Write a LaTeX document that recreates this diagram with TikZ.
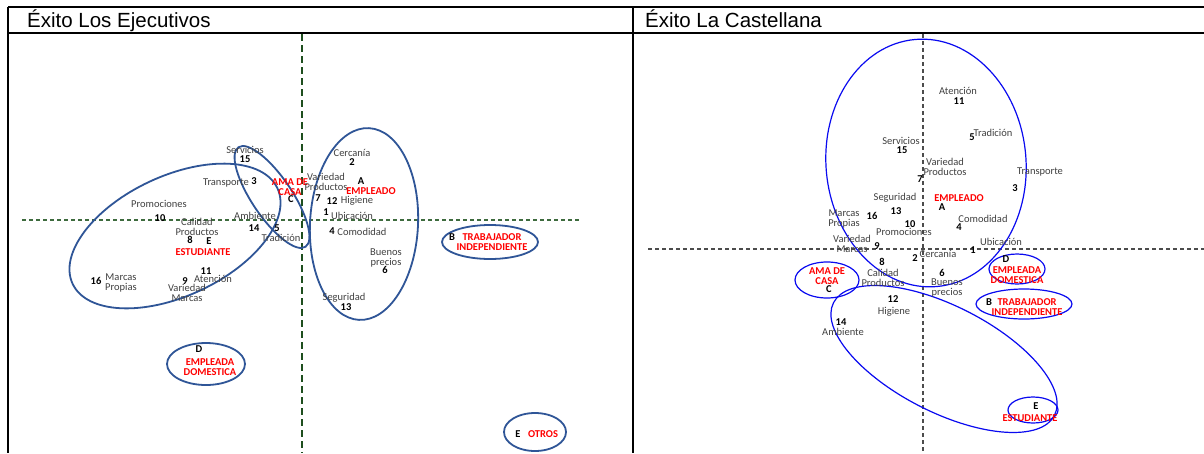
\documentclass[tikz,border=0pt]{standalone}
\usepackage{fontspec}
\setmainfont{Carlito}
\newfontfamily\hdfont{Liberation Sans}
\definecolor{lblue}{HTML}{2F5597}
\definecolor{rblue}{HTML}{0A0AF0}
\definecolor{dgreen}{HTML}{1F4F1F}
\definecolor{mgreen}{HTML}{3E6B3E}
\definecolor{txtgray}{HTML}{404040}
\begin{document}
\begin{tikzpicture}[x=1pt,y=-1pt,
  lbl/.style={font=\fontsize{10.5}{9.5}\selectfont, text=txtgray, inner sep=0pt, align=center},
  num/.style={font=\fontsize{10.5}{9.5}\selectfont\bfseries, text=black, inner sep=0pt},
  grp/.style={font=\fontsize{10.5}{9.5}\selectfont\bfseries, text=red, inner sep=0pt, align=center},
  hd/.style={font=\hdfont\fontsize{20.5}{22}\selectfont, text=black, inner sep=0pt, anchor=base west},
  tbl/.style={line width=2pt, black},
  lell/.style={draw=lblue, line width=1.8pt},
  rell/.style={draw=rblue, line width=1.2pt},
  laxv/.style={draw=dgreen, line width=2pt, dash pattern=on 7pt off 4pt},
  laxh/.style={draw=mgreen, line width=1.2pt, dash pattern=on 4pt off 3pt},
  raxis/.style={draw=black!70, line width=1.2pt, dash pattern=on 4pt off 3pt}
]
\useasboundingbox (0,0) rectangle (1204,453);
\fill[white] (0,0) rectangle (1204,453);

% table
\draw[tbl] (8,7) -- (1204,7);
\draw[tbl] (8,33) -- (1204,33);
\draw[tbl] (8,7) -- (8,453);
\draw[tbl] (633,7) -- (633,453);
\node[hd] (h1) at (27,27) {Éxito Los Ejecutivos};
\node[hd] (h2) at (645,27) {Éxito La Castellana};

% left axes
\draw[laxv] (302,34) -- (302,453);
\draw[laxh] (22,220) -- (580,220);

% right axes
\draw[raxis] (923,34) -- (923,453);
\draw[raxis] (648,249) -- (1204,249);

% left ellipses
\draw[lell, rotate around={25:(175,236)}] (175,236) ellipse [x radius=113pt, y radius=60pt];
\draw[lell, rotate around={-56:(272,197)}] (272,197) ellipse [x radius=60pt, y radius=20pt];
\draw[lell, rotate around={-3:(364,224)}] (364,224) ellipse [x radius=54pt, y radius=96pt];
\draw[lell] (490,242) ellipse [x radius=48pt, y radius=17pt];
\draw[lell] (535,432) ellipse [x radius=31pt, y radius=19pt];
\draw[lell] (206,364) ellipse [x radius=39pt, y radius=21pt];

% right ellipses
\draw[rell, rotate around={5:(926,163)}] (926,163) ellipse [x radius=100pt, y radius=124pt];
\draw[rell, rotate around={-27:(944,359)}] (944,359) ellipse [x radius=124pt, y radius=53pt];
\draw[rell] (827,280) ellipse [x radius=32pt, y radius=18pt];
\draw[rell] (1017,269) ellipse [x radius=28pt, y radius=15pt];
\draw[rell] (1024,304) ellipse [x radius=48pt, y radius=15pt];
\draw[rell] (1033,410) ellipse [x radius=25pt, y radius=13pt];

% left labels
\node[lbl] (l-serv) at (245,150) {Servicios};
\node[num] (l-15) at (245,159) {15};
\node[lbl] (l-transp) at (226,183) {Transporte};
\node[num] (l-3) at (254,181) {3};
\node[grp] (l-ama) at (290,187) {AMA DE\\CASA};
\node[num] (l-C) at (291,199) {C};
\node[lbl] (l-promo) at (159,204) {Promociones};
\node[num] (l-10) at (160,218) {10};
\node[lbl] (l-cal) at (197,227) {Calidad\\Productos};
\node[num] (l-8) at (190,240) {8};
\node[num] (l-E) at (209,241) {E};
\node[grp] (l-est) at (203,252) {ESTUDIANTE};
\node[lbl] (l-amb) at (255,216) {Ambiente};
\node[num] (l-14) at (254,228) {14};
\node[num] (l-5) at (277,228) {5};
\node[lbl] (l-trad) at (281,238) {Tradición};
\node[num] (l-16) at (96,281) {16};
\node[lbl] (l-marcas) at (121,283) {Marcas\\Propias};
\node[num] (l-11) at (206,271) {11};
\node[num] (l-9) at (185,281) {9};
\node[lbl] (l-aten) at (213,279) {Atención};
\node[lbl] (l-varm) at (187,293) {Variedad\\Marcas};
\node[lbl] (l-varp) at (326,182) {Variedad\\Productos};
\node[num] (l-7) at (318,198) {7};
\node[lbl] (l-cerc) at (352,153) {Cercanía};
\node[num] (l-2) at (352,162) {2};
\node[num] (l-A) at (361,181) {A};
\node[grp] (l-empl) at (371,191) {EMPLEADO};
\node[num] (l-12) at (332,201) {12};
\node[lbl] (l-hig) at (357,201) {Higiene};
\node[num] (l-1) at (326,212) {1};
\node[lbl] (l-ubic) at (352,216) {Ubicación};
\node[num] (l-4) at (332,231) {4};
\node[lbl] (l-comod) at (362,232) {Comodidad};
\node[lbl] (l-buenos) at (386,258) {Buenos\\precios};
\node[num] (l-6) at (385,270) {6};
\node[lbl] (l-seg) at (344,298) {Seguridad};
\node[num] (l-13) at (346,307) {13};
\node[num] (l-B) at (452,237) {B};
\node[grp] (l-trab) at (492,242) {TRABAJADOR\\INDEPENDIENTE};
\node[num] (l-D) at (199,349) {D};
\node[grp] (l-empd) at (210,367) {EMPLEADA\\DOMESTICA};
\node[num] (l-E2) at (518,434) {E};
\node[grp] (l-otros) at (543,434) {OTROS};

% right labels
\node[lbl] (r-aten) at (958,91) {Atención};
\node[num] (r-11) at (959,101) {11};
\node[num] (r-5) at (972,137) {5};
\node[lbl] (r-trad) at (993,133) {Tradición};
\node[lbl] (r-serv) at (901,141) {Servicios};
\node[num] (r-15) at (902,150) {15};
\node[lbl] (r-varp) at (945,167) {Variedad\\Productos};
\node[num] (r-7) at (920,179) {7};
\node[lbl] (r-transp) at (1040,172) {Transporte};
\node[num] (r-3) at (1015,188) {3};
\node[lbl] (r-seg) at (895,198) {Seguridad};
\node[num] (r-13) at (896,211) {13};
\node[grp] (r-empl) at (959,198) {EMPLEADO};
\node[num] (r-A) at (942,207) {A};
\node[lbl] (r-comod) at (983,219) {Comodidad};
\node[num] (r-4) at (959,227) {4};
\node[lbl] (r-marcas) at (844,219) {Marcas\\Propias};
\node[num] (r-16) at (872,216) {16};
\node[num] (r-10) at (910,224) {10};
\node[lbl] (r-promo) at (904,232) {Promociones};
\node[lbl] (r-varm) at (852,244) {Variedad\\Marcas};
\node[num] (r-9) at (877,246) {9};
\node[lbl] (r-ubic) at (1001,242) {Ubicación};
\node[num] (r-1) at (973,250) {1};
\node[num] (r-2) at (915,258) {2};
\node[lbl] (r-cerc) at (938,254) {Cercanía};
\node[num] (r-8) at (882,262) {8};
\node[lbl] (r-cal) at (883,278) {Calidad\\Productos};
\node[num] (r-6) at (942,273) {6};
\node[lbl] (r-buenos) at (947,288) {Buenos\\precios};
\node[num] (r-D) at (1006,259) {D};
\node[grp] (r-empd) at (1017,275) {EMPLEADA\\DOMESTICA};
\node[grp] (r-ama) at (827,276) {AMA DE\\CASA};
\node[num] (r-C) at (829,289) {C};
\node[num] (r-B) at (989,302) {B};
\node[grp] (r-trab) at (1027,307) {TRABAJADOR\\INDEPENDIENTE};
\node[num] (r-12) at (893,299) {12};
\node[lbl] (r-hig) at (894,312) {Higiene};
\node[num] (r-14) at (841,322) {14};
\node[lbl] (r-amb) at (843,332) {Ambiente};
\node[num] (r-E) at (1036,406) {E};
\node[grp] (r-est) at (1030,418) {ESTUDIANTE};
\end{tikzpicture}
\end{document}
